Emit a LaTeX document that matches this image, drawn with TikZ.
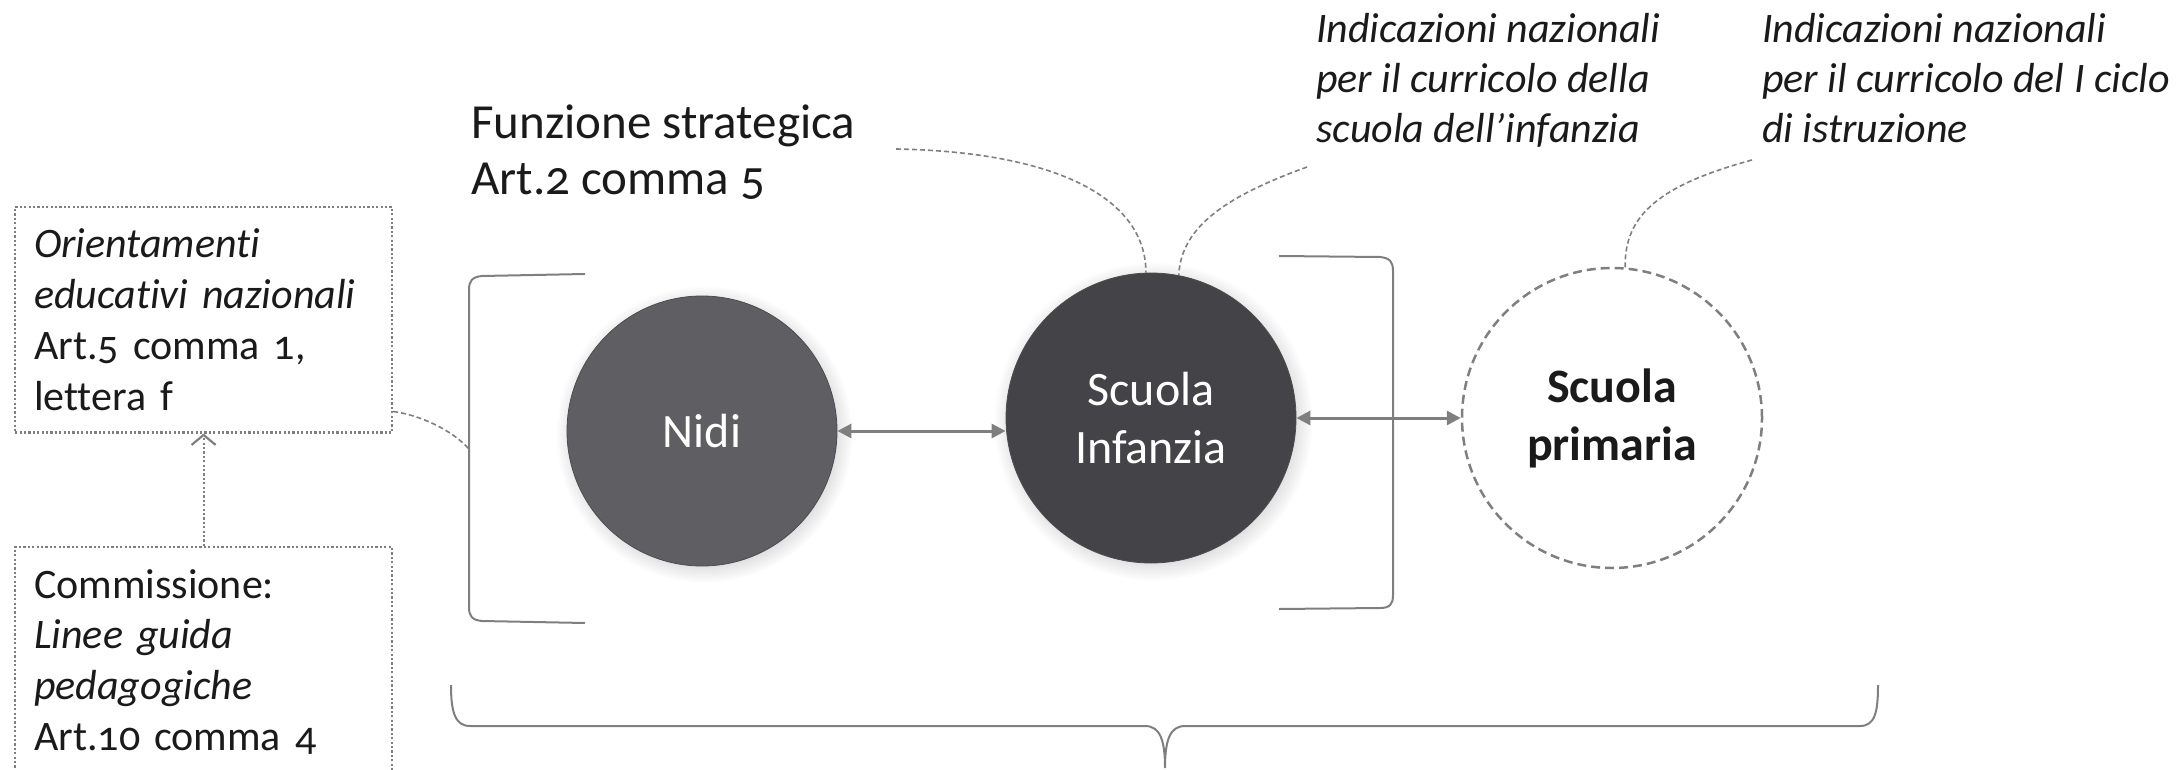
\documentclass[tikz,border=0pt]{standalone}
\usepackage{fontspec}
\setmainfont{Carlito}[Numbers=OldStyle, Ligatures=CommonOff]
\usetikzlibrary{arrows.meta,shadows,calc}
\definecolor{nidigray}{HTML}{5F5E63}
\definecolor{infgray}{HTML}{444347}
\definecolor{linegray}{HTML}{7F7F7F}
\definecolor{txt}{HTML}{1A1A1A}
\begin{document}
\begin{tikzpicture}[x=1pt,y=-1pt,
  notebox/.style={draw=linegray, line width=2.2pt, dash pattern=on 2.2pt off 2.2pt,
    inner xsep=19pt, inner ysep=22pt, text width=339pt, align=left, anchor=north west,
    font=\fontsize{42}{50.7}\selectfont, text=txt},
  label/.style={inner sep=0pt, anchor=north west, align=left, text=txt},
  circ/.style={circle, inner sep=0pt, align=center, font=\fontsize{48}{58}\selectfont},
  solidcirc/.style={circ, text=white, draw=black!70, line width=0.8pt,
    circular drop shadow={shadow xshift=2pt, shadow yshift=-3pt, opacity=0.3}},
  twoway/.style={linegray, line width=3pt,
    {Triangle[length=14pt,width=14pt]}-{Triangle[length=14pt,width=14pt]}},
  link/.style={linegray, line width=1.6pt, dash pattern=on 5pt off 3pt},
  bracket/.style={linegray, line width=2pt}
]
\useasboundingbox (0,0) rectangle (2184,770);

% boxes on the left
\node[notebox] (box1) at (14,206) {\textit{Orientamenti}\\ \textit{educativi nazionali}\\ Art.5 comma 1,\\ lettera f};
\node[notebox] (box2) at (14,546) {Commissione:\\ \textit{Linee guida}\\ \textit{pedagogiche}\\ Art.10 comma 4};
\draw[linegray, line width=2.2pt, dash pattern=on 2.2pt off 2.2pt,
  -{Straight Barb[length=10pt,width=24pt,line width=2.2pt]}] (box2.north) -- (box1.south);

% circles
\node[solidcirc, fill=nidigray, minimum size=270pt] (nidi) at (702,431) {Nidi};
\node[solidcirc, fill=infgray, minimum size=290pt] (inf) at (1151,418) {Scuola\\Infanzia};
\node[circ, draw=linegray, line width=2.5pt, dash pattern=on 9pt off 5pt, minimum size=300pt,
  text=txt, font=\fontsize{48}{58}\selectfont\bfseries] (prim) at (1612,418) {Scuola\\primaria};

\draw[twoway] (nidi.east) -- (nidi.east -| inf.west);
\draw[twoway] (inf.east) -- (prim.west);

% top labels
\node[label, font=\fontsize{49}{56}\selectfont] (fs) at (471,105) {Funzione strategica\\Art.2 comma 5};
\node[label, font=\fontsize{42}{50}\selectfont\itshape] (ind1) at (1316,13) {Indicazioni nazionali\\per il curricolo della\\scuola dell’infanzia};
\node[label, font=\fontsize{42}{50}\selectfont\itshape] (ind2) at (1762,13) {Indicazioni nazionali\\per il curricolo del I ciclo\\di istruzione};

\coordinate (c1s) at (896,149);
\coordinate (c2s) at (1307,167);
\coordinate (c3s) at (1752,160);
\draw[link] (c1s) .. controls (1060,152) and (1146,200) .. (inf.92);
\draw[link] (c2s) .. controls (1230,195) and (1181,225) .. (inf.79);
\draw[link] (c3s) .. controls (1660,185) and (1624,215) .. (prim.85);

% left bracket
\coordinate (lbmid) at (469,449);
\draw[bracket] (585,274) -- (482,276) .. controls (472,277) and (469,281) .. (469,290) -- (469,607)
  .. controls (469,616) and (472,620) .. (482,621) -- (585,623);
\draw[link] ($(box1.south east)+(0,-22)$) .. controls (420,415) and (452,430) .. (lbmid);

% right bracket
\draw[bracket] (1279,256) -- (1380,257) .. controls (1390,258) and (1393,262) .. (1393,271) -- (1393,595)
  .. controls (1393,604) and (1390,608) .. (1380,608) -- (1279,609);

% bottom brace
\draw[bracket] (451,685) .. controls (451,712) and (455,726) .. (470,726) -- (1145,726)
  .. controls (1160,726) and (1165,740) .. (1165,768)
  .. controls (1165,740) and (1170,726) .. (1185,726) -- (1860,726)
  .. controls (1875,726) and (1878,712) .. (1878,685);
\end{tikzpicture}
\end{document}
